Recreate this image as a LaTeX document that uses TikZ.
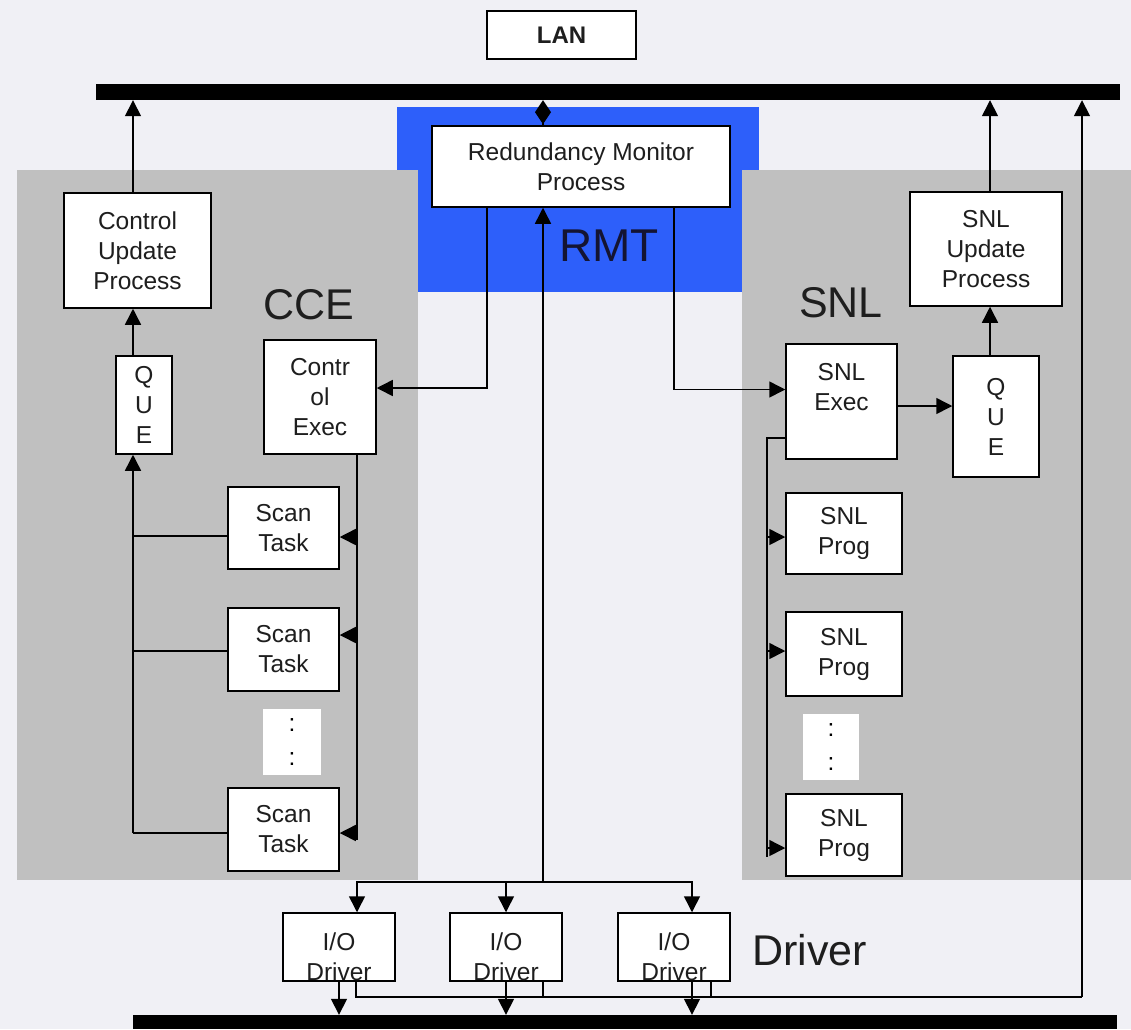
\documentclass[tikz,border=0pt]{standalone}
\usepackage{fontspec}
\setmainfont{Liberation Sans}
\usetikzlibrary{arrows.meta, positioning}

\definecolor{pagebg}{RGB}{240,240,245}
\definecolor{panelgray}{RGB}{192,192,192}
\definecolor{rmtblue}{RGB}{45,95,250}
\definecolor{inkgray}{RGB}{30,30,30}

\tikzset{
  box/.style={draw=black, fill=white, line width=1.5pt, align=center, inner sep=0pt,
    text=inkgray, font=\fontsize{24.5}{30}\selectfont},
  boxtext/.style={align=center, inner sep=0pt, text=inkgray, font=\fontsize{24.5}{30}\selectfont},
  dotsbox/.style={fill=white, inner sep=0pt, align=center, font=\fontsize{24.5}{34}\selectfont},
  wire/.style={line width=1.5pt},
  arr/.style={-{Triangle[length=16pt,width=16pt]}},
  bus/.style={fill=black, inner sep=0pt},
  tag/.style={font=\fontsize{43}{50}\selectfont, text=inkgray, inner sep=0pt},
}

\begin{document}
\begin{tikzpicture}[x=1pt, y=-1pt]
\useasboundingbox (0,0) rectangle (1131,1029);
\fill[pagebg] (0,0) rectangle (1131,1029);

% regions
\fill[rmtblue] (397,107) rectangle (759,292);
\fill[panelgray] (17,170) rectangle (418,880);
\fill[panelgray] (742,170) rectangle (1131,880);

\node[tag] (cce) at (309,305) {CCE};
\node[tag] (snl) at (841,303) {SNL};
\node[tag, font=\fontsize{46}{52}\selectfont, text={rgb,255:red,20;green,20;blue,50}] (rmt) at (609,246) {RMT};
\node[tag, anchor=west] (drv) at (752,950) {Driver};

% buses
\node[bus, minimum width=1024pt, minimum height=16pt] (topbus) at (608,92) {};
\node[bus, minimum width=984pt, minimum height=14pt] (botbus) at (625,1022) {};
\node[box, font=\bfseries\fontsize{24}{28}\selectfont, minimum width=149pt, minimum height=48pt] (lan) at (561.5,35) {LAN};

% RMT
\node[box, minimum width=298pt, minimum height=81pt] (rmp) at (581,166.5) {Redundancy Monitor\\Process};

% CCE
\node[box, minimum width=147pt, minimum height=115pt] (cup) at (137.5,250.5) {Control\\Update\\Process};
\node[box, minimum width=56pt, minimum height=98pt] (qL) at (144,405) {Q\\U\\E};
\node[box, minimum width=112pt, minimum height=114pt] (ce) at (320,397) {Contr\\ol\\Exec};
\node[box, minimum width=111pt, minimum height=82pt] (st1) at (283.5,528) {Scan\\Task};
\node[box, minimum width=111pt, minimum height=83pt] (st2) at (283.5,649.5) {Scan\\Task};
\node[dotsbox, minimum width=58pt, minimum height=66pt] (dotsL) at (292,742) {:\\:};
\node[box, minimum width=111pt, minimum height=83pt] (st3) at (283.5,829.5) {Scan\\Task};

% SNL
\node[box, minimum width=152pt, minimum height=114pt] (snlu) at (986,249) {SNL\\Update\\Process};
\node[box, minimum width=111pt, minimum height=115pt] (snlx) at (841.5,401.5) {SNL\\Exec\\\mbox{}};
\node[box, minimum width=86pt, minimum height=121pt] (qR) at (996,416.5) {Q\\U\\E};
\node[box, minimum width=116pt, minimum height=81pt] (sp1) at (844,533.5) {SNL\\Prog};
\node[box, minimum width=116pt, minimum height=84pt] (sp2) at (844,654) {SNL\\Prog};
\node[dotsbox, minimum width=56pt, minimum height=66pt] (dotsR) at (831,747) {:\\:};
\node[box, minimum width=116pt, minimum height=82pt] (sp3) at (844,835) {SNL\\Prog};

% drivers
\foreach \i/\x in {1/339, 2/506, 3/674} {
  \node[box, minimum width=112pt, minimum height=68pt] (drv\i) at (\x,947) {};
  \node[boxtext] (drv\i t) at ([yshift=-10pt]drv\i.center) {I/O\\Driver};
}

% junction points
\coordinate (drvJ) at (543,882);
\coordinate (ceJ) at (357,840);
\coordinate (qJ) at (133,833);
\coordinate (snJ) at (767,857);
\coordinate (rJ) at (990,416);
\coordinate (retJ) at (1082,997);

% RMT links
\draw[wire, -{Diamond[length=24pt,width=16pt]}] (drvJ |- rmp.north) -- (drvJ |- topbus.south);
\draw[wire, arr] (drvJ) -- (drvJ |- rmp.south);
\draw[wire, arr] ([xshift=-94pt]rmp.south) |- ([yshift=9pt]ce.east);
\draw[wire, arr] ([xshift=93pt]rmp.south) |- ([yshift=12pt]snlx.west);

% CCE links
\draw[wire] (ceJ |- ce.south) -- (ceJ);
\foreach \n/\ai/\lo in {1/-9/-8, 2/14.5/-1.5, 3/-3.5/-3.5} {
  \path ([yshift=\ai pt]st\n.east) coordinate (st\n-in);
  \path ([yshift=\lo pt]st\n.west) coordinate (st\n-out);
  \draw[wire, arr] (ceJ |- st\n-in) -- (st\n-in);
  \draw[wire] (st\n-out) -- (qJ |- st\n-out);
}
\draw[wire, arr] (qJ) -- (qJ |- qL.south);
\draw[wire, arr] (qJ |- qL.north) -- (qJ |- cup.south);
\draw[wire, arr] (qJ |- cup.north) -- (qJ |- topbus.south);

% SNL links
\draw[wire] ([yshift=-36.5pt]snlx.west) -| (snJ);
\foreach \n/\ai in {1/-3.5, 2/3, 3/-13} {
  \path ([yshift=\ai pt]sp\n.west) coordinate (sp\n-in);
  \draw[wire, arr] (snJ |- sp\n-in) -- (sp\n-in);
}
\path ([yshift=-4.5pt]snlx.east) coordinate (sx-out);
\draw[wire, arr] (sx-out) -- (sx-out -| qR.west);
\draw[wire, arr] (rJ |- qR.north) -- (rJ |- snlu.south);
\draw[wire, arr] (rJ |- snlu.north) -- (rJ |- topbus.south);

% driver links
\draw[wire, arr] (drvJ) -| ([xshift=18pt]drv1.north);
\draw[wire, arr] (drvJ) -| (drv2.north);
\draw[wire, arr] (drvJ) -| ([xshift=18pt]drv3.north);
\path ([xshift=18pt]drv3.south) coordinate (d3-down);
\draw[wire, arr] (drv1.south) -- (drv1.south |- botbus.north);
\draw[wire, arr] (drv2.south) -- (drv2.south |- botbus.north);
\draw[wire, arr] (d3-down) -- (d3-down |- botbus.north);
\path ([xshift=17pt]drv1.south) coordinate (d1-ret);
\path ([xshift=37pt]drv2.south) coordinate (d2-ret);
\path ([xshift=37pt]drv3.south) coordinate (d3-ret);
\draw[wire] (d1-ret) |- (retJ);
\draw[wire] (d2-ret) -- (d2-ret |- retJ);
\draw[wire] (d3-ret) -- (d3-ret |- retJ);
\draw[wire, arr] (retJ) -- (retJ |- topbus.south);
\end{tikzpicture}
\end{document}
